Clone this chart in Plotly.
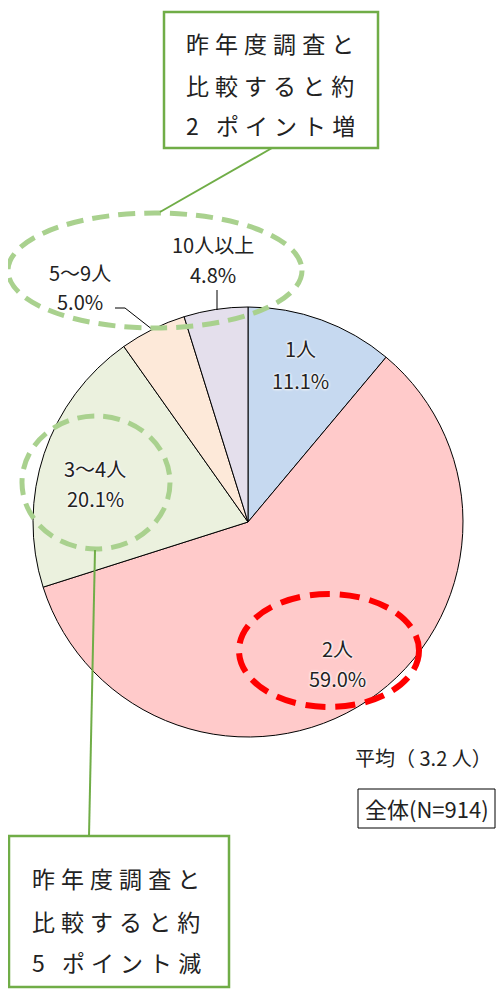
import plotly.graph_objects as go

categories = ["1人", "2人", "3～4人", "5～9人", "10人以上"]
shares = [11.1, 59.0, 20.1, 5.0, 4.8]
colors = ["#c6d9f0", "#ffcaca", "#ebf1de", "#fde9d9", "#e4dfec"]

# The page body has an 8px margin: draw the figure in reference pixel units
OFF = 8
W, H = 504 - 2 * OFF, 997 - 2 * OFF
FONT = "Noto Sans CJK JP"

def dx(p):
    return (p - OFF) / W

def dy(p):
    return 1 - (p - OFF) / H

fig = go.Figure()
fig.add_trace(go.Pie(
    labels=categories, values=shares, sort=False, direction="clockwise",
    rotation=0, marker=dict(colors=colors, line=dict(color="black", width=1)),
    textinfo="none", hoverinfo="label+percent", showlegend=False,
    domain=dict(x=[dx(33), dx(463)], y=[dy(737), dy(307)]),
))

shadow = "0px 0px 3px white, 0px 0px 3px white, 0px 0px 2px white"
label_pos = {
    "1人": (300, 348, 380),
    "2人": (337, 648, 678),
    "3～4人": (95, 468, 498),
    "5～9人": (80, 272, 301),
    "10人以上": (213, 244, 274),
}
ann = []
for cat, val in zip(categories, shares):
    x, y1, y2 = label_pos[cat]
    for txt, yy in ((cat, y1), (f"{val:.1f}%", y2)):
        ann.append(dict(x=x, y=yy, xref="x", yref="y", text=txt, showarrow=False,
                        font=dict(family=FONT, size=20, color="#222", shadow=shadow),
                        xanchor="center", yanchor="middle"))

sp = "\u2009\u200a"
def spaced(s):
    return sp.join(list(s))

top_lines = ["昨年度調査と", "比較すると約", "2 ポイント増"]
bot_lines = ["昨年度調査と", "比較すると約", "5 ポイント減"]
for txt, yy in zip(top_lines, [43, 85, 125]):
    ann.append(dict(x=184, y=yy, xref="x", yref="y", text=spaced(txt), showarrow=False,
                    font=dict(family=FONT, size=23, color="#222"), xanchor="left", yanchor="middle"))
for txt, yy in zip(bot_lines, [878, 921, 962]):
    ann.append(dict(x=30, y=yy, xref="x", yref="y", text=spaced(txt), showarrow=False,
                    font=dict(family=FONT, size=23, color="#222"), xanchor="left", yanchor="middle"))

ann.append(dict(x=353, y=757, xref="x", yref="y", text="平均（ 3.2 人）", showarrow=False,
                font=dict(family=FONT, size=20, color="#222"), xanchor="left", yanchor="middle"))
ann.append(dict(x=363, y=808, xref="x", yref="y", text="全体(N=914)", showarrow=False,
                font=dict(family=FONT, size=22, color="#222"), xanchor="left", yanchor="middle"))

green = "#a9d18e"
box_green = "#70ad47"
shapes = [
    # leader lines
    dict(type="path", path="M 115 308 L 125 308 L 153 330", line=dict(color="black", width=1)),
    dict(type="line", x0=217, y0=290, x1=217, y1=310, line=dict(color="black", width=1)),
    # ellipses
    dict(type="circle", x0=8, x1=302, y0=213, y1=328, line=dict(color=green, width=5, dash="17px,9px")),
    dict(type="circle", x0=22, x1=170, y0=416, y1=549, line=dict(color=green, width=5, dash="17px,9px")),
    dict(type="circle", x0=239, x1=419, y0=594, y1=707, line=dict(color="#ff0000", width=6, dash="20px,10px")),
    # connectors
    dict(type="line", x0=272, y0=148, x1=160, y1=212, line=dict(color=box_green, width=2)),
    dict(type="line", x0=95, y0=550, x1=89, y1=836, line=dict(color=box_green, width=2)),
    # boxes
    dict(type="rect", x0=164, x1=378, y0=12, y1=148, line=dict(color=box_green, width=2.5), fillcolor="white"),
    dict(type="rect", x0=9, x1=229, y0=836, y1=987, line=dict(color=box_green, width=2.5), fillcolor="white"),
    dict(type="rect", x0=358, x1=495, y0=789, y1=828, line=dict(color="black", width=1)),
]

fig.update_layout(
    width=W, height=H, margin=dict(l=0, r=0, t=0, b=0),
    paper_bgcolor="white", plot_bgcolor="rgba(0,0,0,0)",
    xaxis=dict(range=[OFF, 504 - OFF], visible=False, fixedrange=True),
    yaxis=dict(range=[997 - OFF, OFF], visible=False, fixedrange=True),
    shapes=shapes, annotations=ann,
)
fig.write_html("out.html")
